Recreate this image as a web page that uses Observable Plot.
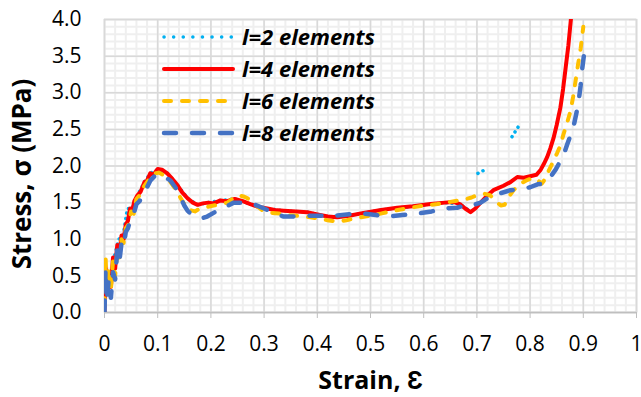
<!DOCTYPE html>
<html>
<head>
<meta charset="utf-8">
<script src="https://cdn.jsdelivr.net/npm/d3@7"></script>
<script src="https://cdn.jsdelivr.net/npm/@observablehq/plot@0.6"></script>
<style>
  html, body { margin: 0; padding: 0; background: #fff; }
</style>
</head>
<body>
<div id="chart"></div>
<script>
// Stress–strain response for different element counts: [strain, stress (MPa)]
const l2 = [
  [0, 0], [0.002, 0.6], [0.006, 0.35], [0.012, 0.45], [0.018, 0.75], [0.027, 1.0],
  [0.035, 1.05], [0.043, 1.42], [0.052, 1.42], [0.062, 1.6], [0.075, 1.78], [0.086, 1.9],
  [0.1, 1.95], [0.118, 1.9], [0.137, 1.74], [0.156, 1.56], [0.175, 1.47], [0.195, 1.5],
  [0.218, 1.53], [0.245, 1.55], [0.274, 1.48], [0.306, 1.42], [0.337, 1.39], [0.381, 1.37],
  [0.42, 1.31], [0.46, 1.32], [0.52, 1.4], [0.58, 1.45], [0.64, 1.5], [0.668, 1.48],
  [0.688, 1.38], [null, null],
  [0.702, 1.9], [0.718, 1.96], [null, null],
  [0.766, 2.4], [0.779, 2.55]
];
const l4 = [
  [0, 0], [0.002, 0.62], [0.004, 0.3], [0.008, 0.5], [0.012, 0.35], [0.016, 0.75], [0.02, 0.6],
  [0.024, 0.92], [0.028, 0.8], [0.032, 1.05], [0.036, 1.0], [0.04, 1.2], [0.044, 1.25],
  [0.048, 1.42], [0.052, 1.38], [0.056, 1.52], [0.062, 1.6], [0.068, 1.65], [0.075, 1.78],
  [0.08, 1.8], [0.086, 1.9], [0.092, 1.88], [0.1, 1.96], [0.108, 1.95], [0.118, 1.9],
  [0.128, 1.82], [0.137, 1.74], [0.146, 1.64], [0.156, 1.56], [0.166, 1.5], [0.175, 1.47],
  [0.185, 1.49], [0.195, 1.5], [0.205, 1.49], [0.218, 1.53], [0.23, 1.52], [0.245, 1.55],
  [0.26, 1.52], [0.274, 1.48], [0.29, 1.44], [0.306, 1.42], [0.32, 1.4], [0.337, 1.39],
  [0.36, 1.38], [0.381, 1.37], [0.4, 1.34], [0.42, 1.31], [0.437, 1.3], [0.46, 1.32],
  [0.487, 1.36], [0.52, 1.4], [0.55, 1.43], [0.58, 1.45], [0.613, 1.48], [0.64, 1.5],
  [0.656, 1.51], [0.668, 1.48], [0.678, 1.42], [0.688, 1.37], [0.697, 1.42], [0.707, 1.5],
  [0.72, 1.6], [0.731, 1.67], [0.75, 1.73], [0.763, 1.78], [0.776, 1.85], [0.788, 1.84],
  [0.8, 1.86], [0.812, 1.88], [0.82, 1.95], [0.826, 2.03], [0.832, 2.12], [0.838, 2.24],
  [0.844, 2.38], [0.85, 2.56], [0.857, 2.8], [0.862, 3.05], [0.867, 3.35], [0.872, 3.65],
  [0.876, 3.95], [0.878, 4.1]
];
const l6 = [
  [0, 0.1], [0.002, 0.78], [0.004, 0.35], [0.008, 0.6], [0.012, 0.3], [0.016, 0.7], [0.02, 0.5],
  [0.024, 0.85], [0.028, 0.75], [0.032, 1.0], [0.036, 0.95], [0.04, 1.15], [0.045, 1.2],
  [0.05, 1.38], [0.055, 1.35], [0.06, 1.55], [0.066, 1.6], [0.072, 1.7], [0.08, 1.78],
  [0.088, 1.86], [0.095, 1.9], [0.102, 1.91], [0.11, 1.88], [0.12, 1.82], [0.13, 1.72],
  [0.14, 1.6], [0.15, 1.48], [0.16, 1.4], [0.17, 1.38], [0.18, 1.42], [0.193, 1.44],
  [0.205, 1.46], [0.218, 1.48], [0.231, 1.5], [0.242, 1.56], [0.252, 1.6], [0.263, 1.58],
  [0.274, 1.54], [0.287, 1.45], [0.3, 1.38], [0.315, 1.36], [0.331, 1.35], [0.347, 1.33],
  [0.363, 1.32], [0.387, 1.3], [0.405, 1.28], [0.419, 1.26], [0.438, 1.24], [0.455, 1.26],
  [0.468, 1.28], [0.49, 1.31], [0.519, 1.35], [0.545, 1.39], [0.575, 1.43], [0.6, 1.46],
  [0.626, 1.48], [0.65, 1.51], [0.675, 1.54], [0.69, 1.57], [0.7, 1.6], [0.715, 1.62],
  [0.725, 1.6], [0.735, 1.52], [0.745, 1.46], [0.752, 1.47], [0.76, 1.58], [0.769, 1.67],
  [0.78, 1.75], [0.792, 1.8], [0.806, 1.84], [0.815, 1.8], [0.822, 1.76], [0.828, 1.82],
  [0.834, 1.92], [0.842, 2.04], [0.851, 2.18], [0.857, 2.28], [0.863, 2.44], [0.87, 2.6],
  [0.876, 2.75], [0.881, 2.95], [0.885, 3.14], [0.89, 3.38], [0.895, 3.6], [0.9, 3.9]
];
const l8 = [
  [0, 0], [0.002, 0.6], [0.004, 0.15], [0.008, 0.45], [0.012, 0.2], [0.016, 0.55], [0.02, 0.45],
  [0.024, 0.85], [0.028, 0.7], [0.032, 0.95], [0.036, 0.9], [0.04, 1.1], [0.044, 1.15],
  [0.05, 1.3], [0.055, 1.35], [0.06, 1.48], [0.066, 1.52], [0.072, 1.62], [0.078, 1.68],
  [0.086, 1.8], [0.094, 1.86], [0.102, 1.89], [0.112, 1.86], [0.124, 1.8], [0.134, 1.7],
  [0.143, 1.57], [0.15, 1.46], [0.156, 1.39], [0.165, 1.33], [0.175, 1.3], [0.185, 1.29],
  [0.193, 1.31], [0.205, 1.36], [0.215, 1.4], [0.224, 1.43], [0.243, 1.5], [0.262, 1.5],
  [0.28, 1.48], [0.3, 1.42], [0.318, 1.36], [0.337, 1.31], [0.352, 1.31], [0.368, 1.32],
  [0.393, 1.32], [0.43, 1.32], [0.46, 1.34], [0.487, 1.35], [0.51, 1.33], [0.532, 1.31],
  [0.56, 1.33], [0.588, 1.35], [0.615, 1.38], [0.637, 1.42], [0.663, 1.43], [0.68, 1.47],
  [0.69, 1.46], [0.707, 1.5], [0.72, 1.56], [0.731, 1.6], [0.745, 1.63], [0.763, 1.67],
  [0.788, 1.69], [0.8, 1.71], [0.814, 1.75], [0.825, 1.76], [0.832, 1.8], [0.838, 1.85],
  [0.848, 1.95], [0.857, 2.07], [0.863, 2.15], [0.87, 2.3], [0.876, 2.42], [0.882, 2.55],
  [0.887, 2.72], [0.891, 2.87], [0.895, 3.1], [0.898, 3.33], [0.901, 3.5], [0.904, 3.62]
];

const seriesNames = ["l=2 elements", "l=4 elements", "l=6 elements", "l=8 elements"];
const xTicks = [0, 0.1, 0.2, 0.3, 0.4, 0.5, 0.6, 0.7, 0.8, 0.9, 1];
const yTicks = [0, 0.5, 1.0, 1.5, 2.0, 2.5, 3.0, 3.5, 4.0];
const xTitle = "Strain, Ɛ";
const yTitle = "Stress, σ (MPa)";

// line styles per series
const styles = [
  {stroke: "#00b0f0", strokeWidth: 3.5, strokeDasharray: "0.1,5.5", strokeLinecap: "round"},
  {stroke: "#ff0000", strokeWidth: 4, strokeLinecap: "round", strokeLinejoin: "round"},
  {stroke: "#ffc000", strokeWidth: 4, strokeDasharray: "7,11", strokeLinecap: "round"},
  {stroke: "#4472c4", strokeWidth: 4.5, strokeDasharray: "12,16", strokeLinecap: "round"}
];
const legendDash = ["0.1,9.5", null, "7,11", "12,16"];
const series = [l2, l4, l6, l8];

const font = "'Open Sans', 'Liberation Sans', sans-serif";
const fmt = d => (d === 0 || d === 1) ? String(d) : d.toFixed(1);

const chart = Plot.plot({
  width: 641,
  height: 397,
  marginLeft: 104,
  marginRight: 5,
  marginTop: 19,
  marginBottom: 85,
  x: {domain: [0, 1]},
  y: {domain: [0, 4]},
  style: {fontFamily: font, fontSize: "21px", color: "#000", background: "#fff", overflow: "visible"},
  marks: [
    // minor grid
    Plot.ruleX(d3.range(0, 1.0001, 0.02), {stroke: "#efefef", strokeWidth: 2}),
    Plot.ruleY(d3.range(0, 4.0001, 0.1), {stroke: "#efefef", strokeWidth: 2}),
    // major grid
    Plot.ruleX(xTicks, {stroke: "#d9d9d9", strokeWidth: 1.5}),
    Plot.ruleY(yTicks, {stroke: "#d9d9d9", strokeWidth: 1.5}),
    Plot.frame({stroke: "#d9d9d9", strokeWidth: 1.5}),
    Plot.axisX(xTicks, {tickSize: 6, tickPadding: 18, stroke: "#bfbfbf", fill: "#000", tickFormat: fmt, fontSize: 21, label: null}),
    Plot.axisY(yTicks, {tickSize: 0, tickPadding: 23, fill: "#000", tickFormat: d => d.toFixed(1), fontSize: 21, label: null}),
    Plot.ruleY([0], {stroke: "#bfbfbf", strokeWidth: 1.5}),
    // curves
    ...series.map((s, i) => Plot.line(s, {
      x: d => d[0], y: d => d[1], clip: true, curve: "linear", ...styles[i]
    })),
    // axis titles
    Plot.text([xTitle], {frameAnchor: "bottom", dy: 68, lineAnchor: "middle", textAnchor: "middle", fontSize: 25, fontWeight: "bold"}),
    Plot.text([yTitle], {frameAnchor: "left", dx: -82, dy: 8, rotate: -90, textAnchor: "middle", lineAnchor: "middle", fontSize: 26, fontWeight: "bold"})
  ]
});

// legend inside the plot area, top left
const svg = d3.select(chart);
const lg = svg.append("g").attr("font-family", font).attr("text-anchor", "start");
seriesNames.forEach((name, i) => {
  const y = 37 + 32 * i;
  const st = styles[i];
  lg.append("line")
    .attr("x1", 164).attr("x2", 233).attr("y1", y).attr("y2", y)
    .attr("stroke", st.stroke).attr("stroke-width", st.strokeWidth)
    .attr("stroke-dasharray", legendDash[i])
    .attr("stroke-linecap", st.strokeLinecap || "butt");
  lg.append("text")
    .attr("x", 242).attr("y", y).attr("dy", "0.35em")
    .attr("font-size", 22).attr("font-weight", "bold").attr("font-style", "italic")
    .attr("fill", "#000")
    .text(name);
});

document.getElementById("chart").appendChild(chart);
</script>
</body>
</html>
